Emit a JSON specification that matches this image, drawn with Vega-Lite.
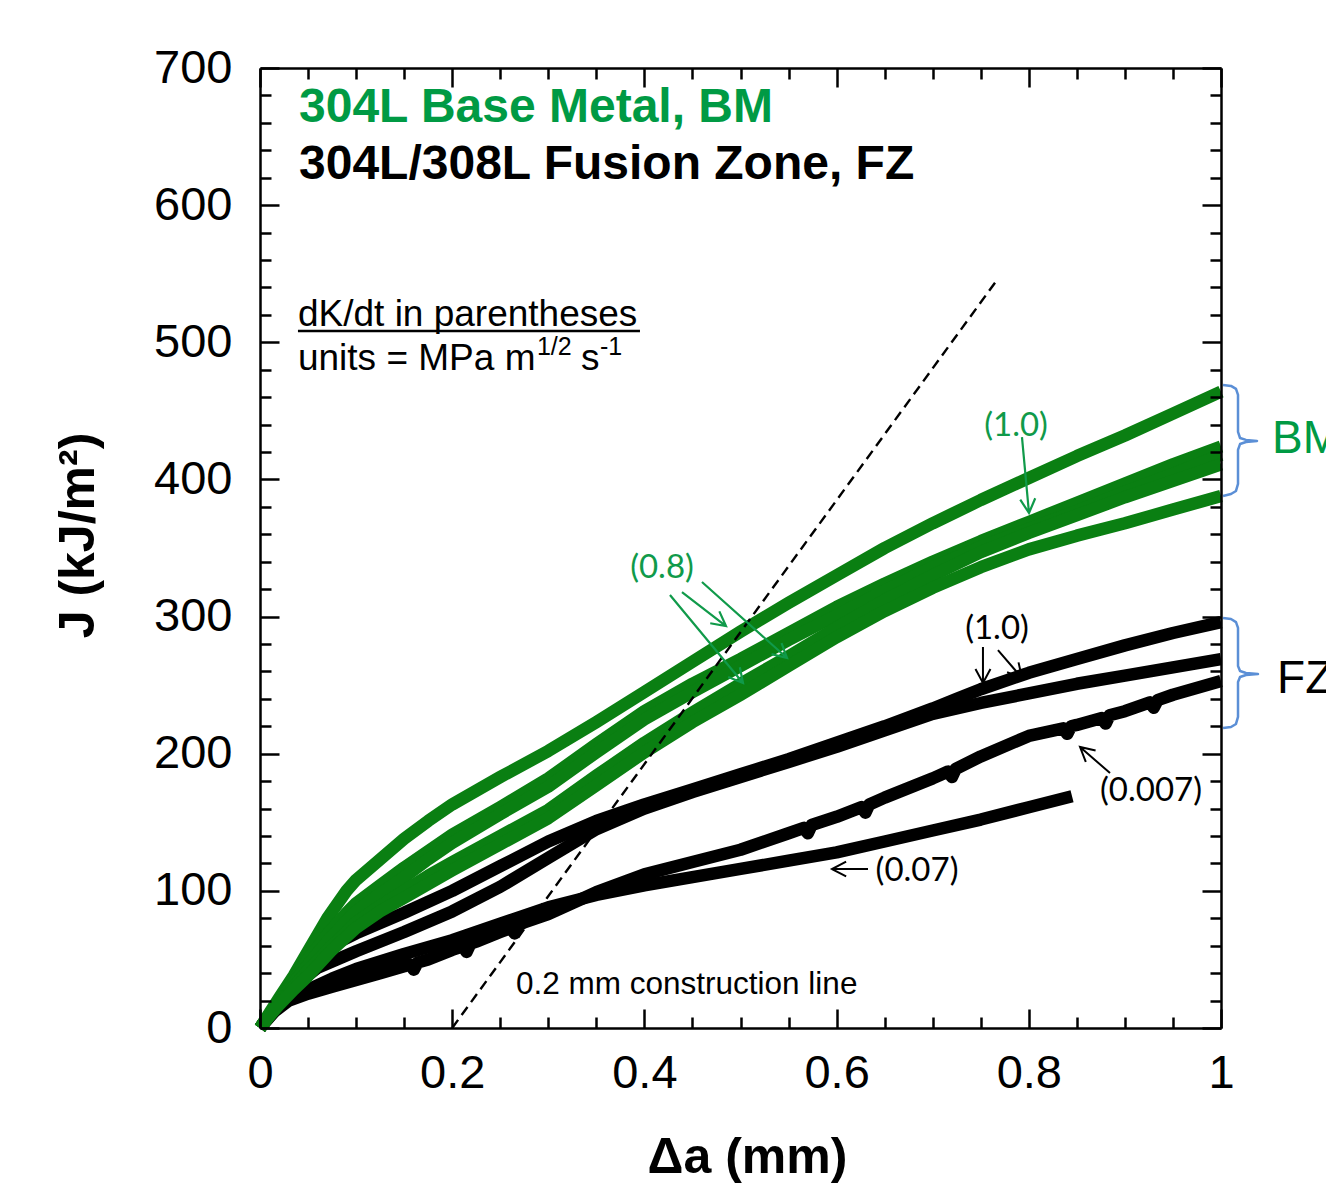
{
"$schema":"https://vega.github.io/schema/vega-lite/v6.json",
"width":961,"height":960,
"autosize":{"type":"none"},
"padding":{"left":260,"top":68,"right":105,"bottom":155},
"background":"white",
"config":{"view":{"stroke":null},"font":"Liberation Sans"},
"datasets":{
"curves":[
{"id":"G1","x":0,"y":0},{"id":"G1","x":0.01,"y":11},{"id":"G1","x":0.02,"y":22},{"id":"G1","x":0.035,"y":38},{"id":"G1","x":0.05,"y":56},{"id":"G1","x":0.07,"y":80},{"id":"G1","x":0.09,"y":100},{"id":"G1","x":0.1,"y":108},{"id":"G1","x":0.11,"y":114},{"id":"G1","x":0.13,"y":126},{"id":"G1","x":0.15,"y":138},{"id":"G1","x":0.175,"y":151},{"id":"G1","x":0.2,"y":163},{"id":"G1","x":0.25,"y":183},{"id":"G1","x":0.3,"y":202},{"id":"G1","x":0.35,"y":223},{"id":"G1","x":0.4,"y":245},{"id":"G1","x":0.45,"y":267},{"id":"G1","x":0.5,"y":289},{"id":"G1","x":0.55,"y":310},{"id":"G1","x":0.6,"y":330},{"id":"G1","x":0.65,"y":350},{"id":"G1","x":0.7,"y":368},{"id":"G1","x":0.75,"y":385},{"id":"G1","x":0.8,"y":401},{"id":"G1","x":0.85,"y":417},{"id":"G1","x":0.9,"y":432},{"id":"G1","x":0.95,"y":448},{"id":"G1","x":1.0,"y":464},
{"id":"G2","x":0,"y":0},{"id":"G2","x":0.01,"y":10},{"id":"G2","x":0.02,"y":20},{"id":"G2","x":0.035,"y":35},{"id":"G2","x":0.05,"y":50},{"id":"G2","x":0.07,"y":68},{"id":"G2","x":0.09,"y":84},{"id":"G2","x":0.1,"y":91},{"id":"G2","x":0.125,"y":104},{"id":"G2","x":0.15,"y":117},{"id":"G2","x":0.175,"y":129},{"id":"G2","x":0.2,"y":141},{"id":"G2","x":0.25,"y":161},{"id":"G2","x":0.3,"y":182},{"id":"G2","x":0.35,"y":207},{"id":"G2","x":0.4,"y":231},{"id":"G2","x":0.45,"y":251},{"id":"G2","x":0.5,"y":269},{"id":"G2","x":0.55,"y":288},{"id":"G2","x":0.6,"y":307},{"id":"G2","x":0.65,"y":324},{"id":"G2","x":0.7,"y":340},{"id":"G2","x":0.75,"y":355},{"id":"G2","x":0.8,"y":369},{"id":"G2","x":0.85,"y":383},{"id":"G2","x":0.9,"y":397},{"id":"G2","x":0.95,"y":411},{"id":"G2","x":1.0,"y":424},
{"id":"G3","x":0,"y":0},{"id":"G3","x":0.01,"y":10},{"id":"G3","x":0.02,"y":19},{"id":"G3","x":0.035,"y":33},{"id":"G3","x":0.05,"y":46},{"id":"G3","x":0.07,"y":63},{"id":"G3","x":0.09,"y":78},{"id":"G3","x":0.1,"y":85},{"id":"G3","x":0.125,"y":98},{"id":"G3","x":0.15,"y":110},{"id":"G3","x":0.175,"y":123},{"id":"G3","x":0.2,"y":135},{"id":"G3","x":0.25,"y":156},{"id":"G3","x":0.3,"y":176},{"id":"G3","x":0.35,"y":201},{"id":"G3","x":0.4,"y":225},{"id":"G3","x":0.45,"y":245},{"id":"G3","x":0.5,"y":264},{"id":"G3","x":0.55,"y":283},{"id":"G3","x":0.6,"y":301},{"id":"G3","x":0.65,"y":319},{"id":"G3","x":0.7,"y":336},{"id":"G3","x":0.75,"y":351},{"id":"G3","x":0.8,"y":364},{"id":"G3","x":0.85,"y":377},{"id":"G3","x":0.9,"y":391},{"id":"G3","x":0.95,"y":404},{"id":"G3","x":1.0,"y":418},
{"id":"G4","x":0,"y":0},{"id":"G4","x":0.01,"y":9},{"id":"G4","x":0.02,"y":18},{"id":"G4","x":0.035,"y":30},{"id":"G4","x":0.05,"y":42},{"id":"G4","x":0.075,"y":60},{"id":"G4","x":0.1,"y":77},{"id":"G4","x":0.125,"y":89},{"id":"G4","x":0.15,"y":100},{"id":"G4","x":0.175,"y":111},{"id":"G4","x":0.2,"y":121},{"id":"G4","x":0.25,"y":140},{"id":"G4","x":0.3,"y":159},{"id":"G4","x":0.35,"y":184},{"id":"G4","x":0.4,"y":208},{"id":"G4","x":0.45,"y":230},{"id":"G4","x":0.5,"y":251},{"id":"G4","x":0.55,"y":271},{"id":"G4","x":0.6,"y":292},{"id":"G4","x":0.65,"y":312},{"id":"G4","x":0.7,"y":330},{"id":"G4","x":0.75,"y":347},{"id":"G4","x":0.8,"y":361},{"id":"G4","x":0.85,"y":374},{"id":"G4","x":0.9,"y":387},{"id":"G4","x":0.95,"y":399},{"id":"G4","x":1.0,"y":411},
{"id":"G5","x":0,"y":0},{"id":"G5","x":0.01,"y":9},{"id":"G5","x":0.02,"y":17},{"id":"G5","x":0.035,"y":28},{"id":"G5","x":0.05,"y":38},{"id":"G5","x":0.075,"y":57},{"id":"G5","x":0.1,"y":73},{"id":"G5","x":0.125,"y":85},{"id":"G5","x":0.15,"y":95},{"id":"G5","x":0.175,"y":105},{"id":"G5","x":0.2,"y":115},{"id":"G5","x":0.25,"y":134},{"id":"G5","x":0.3,"y":153},{"id":"G5","x":0.35,"y":177},{"id":"G5","x":0.4,"y":201},{"id":"G5","x":0.45,"y":223},{"id":"G5","x":0.5,"y":243},{"id":"G5","x":0.55,"y":264},{"id":"G5","x":0.6,"y":285},{"id":"G5","x":0.65,"y":304},{"id":"G5","x":0.7,"y":321},{"id":"G5","x":0.75,"y":336},{"id":"G5","x":0.8,"y":349},{"id":"G5","x":0.85,"y":359},{"id":"G5","x":0.9,"y":368},{"id":"G5","x":0.95,"y":378},{"id":"G5","x":1.0,"y":388},
{"id":"B1","x":0,"y":0},{"id":"B1","x":0.02,"y":20},{"id":"B1","x":0.04,"y":38},{"id":"B1","x":0.06,"y":53},{"id":"B1","x":0.08,"y":62},{"id":"B1","x":0.1,"y":69},{"id":"B1","x":0.15,"y":84},{"id":"B1","x":0.2,"y":100},{"id":"B1","x":0.25,"y":118},{"id":"B1","x":0.3,"y":136},{"id":"B1","x":0.35,"y":151},{"id":"B1","x":0.4,"y":163},{"id":"B1","x":0.45,"y":174},{"id":"B1","x":0.5,"y":185},{"id":"B1","x":0.55,"y":196},{"id":"B1","x":0.6,"y":208},{"id":"B1","x":0.65,"y":220},{"id":"B1","x":0.7,"y":233},{"id":"B1","x":0.725,"y":240},{"id":"B1","x":0.75,"y":247},{"id":"B1","x":0.8,"y":259},{"id":"B1","x":0.85,"y":269},{"id":"B1","x":0.9,"y":279},{"id":"B1","x":0.95,"y":288},{"id":"B1","x":1.0,"y":296},
{"id":"B2","x":0,"y":0},{"id":"B2","x":0.02,"y":19},{"id":"B2","x":0.04,"y":33},{"id":"B2","x":0.06,"y":44},{"id":"B2","x":0.08,"y":50},{"id":"B2","x":0.1,"y":56},{"id":"B2","x":0.15,"y":70},{"id":"B2","x":0.2,"y":85},{"id":"B2","x":0.25,"y":103},{"id":"B2","x":0.3,"y":124},{"id":"B2","x":0.35,"y":145},{"id":"B2","x":0.4,"y":160},{"id":"B2","x":0.45,"y":172},{"id":"B2","x":0.5,"y":183},{"id":"B2","x":0.55,"y":194},{"id":"B2","x":0.6,"y":205},{"id":"B2","x":0.65,"y":217},{"id":"B2","x":0.7,"y":229},{"id":"B2","x":0.725,"y":233},{"id":"B2","x":0.75,"y":237},{"id":"B2","x":0.8,"y":244},{"id":"B2","x":0.85,"y":251},{"id":"B2","x":0.9,"y":257},{"id":"B2","x":0.95,"y":263},{"id":"B2","x":1.0,"y":269},
{"id":"B3","x":0,"y":0},{"id":"B3","x":0.015,"y":12},{"id":"B3","x":0.03,"y":20},{"id":"B3","x":0.05,"y":25},{"id":"B3","x":0.075,"y":30},{"id":"B3","x":0.1,"y":35},{"id":"B3","x":0.125,"y":40},{"id":"B3","x":0.15,"y":45},{"id":"B3","x":0.156,"y":46.5},{"id":"B3","x":0.16,"y":42.5},{"id":"B3","x":0.164,"y":47.8},{"id":"B3","x":0.175,"y":50},{"id":"B3","x":0.2,"y":57},{"id":"B3","x":0.211,"y":59.5},{"id":"B3","x":0.215,"y":55.5},{"id":"B3","x":0.219,"y":61.5},{"id":"B3","x":0.225,"y":63},{"id":"B3","x":0.25,"y":70},{"id":"B3","x":0.261,"y":73},{"id":"B3","x":0.265,"y":69},{"id":"B3","x":0.269,"y":75},{"id":"B3","x":0.275,"y":77},{"id":"B3","x":0.3,"y":83},{"id":"B3","x":0.35,"y":99},{"id":"B3","x":0.4,"y":112},{"id":"B3","x":0.45,"y":121},{"id":"B3","x":0.5,"y":130},{"id":"B3","x":0.55,"y":142},{"id":"B3","x":0.566,"y":146},{"id":"B3","x":0.57,"y":142},{"id":"B3","x":0.574,"y":148},{"id":"B3","x":0.6,"y":154},{"id":"B3","x":0.626,"y":161},{"id":"B3","x":0.63,"y":157},{"id":"B3","x":0.634,"y":163},{"id":"B3","x":0.65,"y":168},{"id":"B3","x":0.7,"y":182},{"id":"B3","x":0.716,"y":187},{"id":"B3","x":0.72,"y":183},{"id":"B3","x":0.724,"y":189},{"id":"B3","x":0.75,"y":198},{"id":"B3","x":0.8,"y":213},{"id":"B3","x":0.836,"y":218.5},{"id":"B3","x":0.84,"y":214.5},{"id":"B3","x":0.844,"y":220},{"id":"B3","x":0.85,"y":221},{"id":"B3","x":0.876,"y":226},{"id":"B3","x":0.88,"y":222},{"id":"B3","x":0.884,"y":228},{"id":"B3","x":0.9,"y":231},{"id":"B3","x":0.926,"y":237.5},{"id":"B3","x":0.93,"y":233.5},{"id":"B3","x":0.934,"y":239},{"id":"B3","x":0.95,"y":243},{"id":"B3","x":1.0,"y":253},
{"id":"B4","x":0,"y":0},{"id":"B4","x":0.015,"y":13},{"id":"B4","x":0.03,"y":21},{"id":"B4","x":0.05,"y":28},{"id":"B4","x":0.075,"y":36},{"id":"B4","x":0.1,"y":43},{"id":"B4","x":0.15,"y":54},{"id":"B4","x":0.2,"y":64},{"id":"B4","x":0.25,"y":76},{"id":"B4","x":0.3,"y":88},{"id":"B4","x":0.35,"y":97},{"id":"B4","x":0.4,"y":104},{"id":"B4","x":0.45,"y":110},{"id":"B4","x":0.5,"y":116},{"id":"B4","x":0.55,"y":122},{"id":"B4","x":0.6,"y":128},{"id":"B4","x":0.65,"y":136},{"id":"B4","x":0.7,"y":144},{"id":"B4","x":0.75,"y":152},{"id":"B4","x":0.8,"y":161},{"id":"B4","x":0.845,"y":169}
],
"arrows":[
{"id":"ga1","o":0,"x":0.7929,"y":430.9},{"id":"ga1","o":1,"x":0.8002,"y":375.5},{"id":"ga1","o":2,"x":0.8067,"y":386.3},{"id":"ga1","o":3,"x":0.8002,"y":375.5},{"id":"ga1","o":4,"x":0.7911,"y":385.3},
{"id":"ga2","o":0,"x":0.4266,"y":315.7},{"id":"ga2","o":1,"x":0.5026,"y":251.6},{"id":"ga2","o":2,"x":0.4993,"y":263.0},{"id":"ga2","o":3,"x":0.5026,"y":251.6},{"id":"ga2","o":4,"x":0.4872,"y":256.0},
{"id":"ga3","o":0,"x":0.4391,"y":317.9},{"id":"ga3","o":1,"x":0.4849,"y":293.1},{"id":"ga3","o":2,"x":0.4780,"y":303.8},{"id":"ga3","o":3,"x":0.4849,"y":293.1},{"id":"ga3","o":4,"x":0.4685,"y":295.1},
{"id":"ga4","o":0,"x":0.4599,"y":325.2},{"id":"ga4","o":1,"x":0.5484,"y":269.8},{"id":"ga4","o":2,"x":0.5427,"y":280.7},{"id":"ga4","o":3,"x":0.5484,"y":269.8},{"id":"ga4","o":4,"x":0.5323,"y":272.6},
{"id":"ba1","o":0,"x":0.7523,"y":277.8},{"id":"ba1","o":1,"x":0.7523,"y":251.6},{"id":"ba1","o":2,"x":0.7601,"y":261.8},{"id":"ba1","o":3,"x":0.7523,"y":251.6},{"id":"ba1","o":4,"x":0.7445,"y":261.8},
{"id":"ba2","o":0,"x":0.7679,"y":275.6},{"id":"ba2","o":1,"x":0.7929,"y":255.2},{"id":"ba2","o":2,"x":0.7893,"y":266.6},{"id":"ba2","o":3,"x":0.7929,"y":255.2},{"id":"ba2","o":4,"x":0.7774,"y":259.4},
{"id":"ba3","o":0,"x":0.8845,"y":185.9},{"id":"ba3","o":1,"x":0.8533,"y":204.9},{"id":"ba3","o":2,"x":0.8593,"y":194.0},{"id":"ba3","o":3,"x":0.8533,"y":204.9},{"id":"ba3","o":4,"x":0.8695,"y":202.3},
{"id":"ba4","o":0,"x":0.6327,"y":115.9},{"id":"ba4","o":1,"x":0.5952,"y":115.9},{"id":"ba4","o":2,"x":0.6099,"y":110.5},{"id":"ba4","o":3,"x":0.5952,"y":115.9},{"id":"ba4","o":4,"x":0.6099,"y":121.4}
],
"braces":[
{"id":"BM","o":0,"x":1.0021,"y":468.9},{"id":"BM","o":1,"x":1.0104,"y":468.2},{"id":"BM","o":2,"x":1.0156,"y":466.0},{"id":"BM","o":3,"x":1.0177,"y":461.6},{"id":"BM","o":4,"x":1.0177,"y":434.6},{"id":"BM","o":5,"x":1.0198,"y":430.2},{"id":"BM","o":6,"x":1.0260,"y":428.8},{"id":"BM","o":7,"x":1.0375,"y":428.1},{"id":"BM","o":8,"x":1.0260,"y":427.3},{"id":"BM","o":9,"x":1.0198,"y":425.8},{"id":"BM","o":10,"x":1.0177,"y":421.5},{"id":"BM","o":11,"x":1.0177,"y":396.7},{"id":"BM","o":12,"x":1.0156,"y":391.6},{"id":"BM","o":13,"x":1.0104,"y":389.4},{"id":"BM","o":14,"x":1.0021,"y":387.9},
{"id":"FZ","o":0,"x":1.0021,"y":299.0},{"id":"FZ","o":1,"x":1.0104,"y":298.2},{"id":"FZ","o":2,"x":1.0156,"y":296.0},{"id":"FZ","o":3,"x":1.0177,"y":291.7},{"id":"FZ","o":4,"x":1.0177,"y":264.0},{"id":"FZ","o":5,"x":1.0198,"y":260.3},{"id":"FZ","o":6,"x":1.0260,"y":258.9},{"id":"FZ","o":7,"x":1.0385,"y":258.1},{"id":"FZ","o":8,"x":1.0260,"y":257.4},{"id":"FZ","o":9,"x":1.0198,"y":255.9},{"id":"FZ","o":10,"x":1.0177,"y":252.3},{"id":"FZ","o":11,"x":1.0177,"y":226.8},{"id":"FZ","o":12,"x":1.0156,"y":221.7},{"id":"FZ","o":13,"x":1.0104,"y":219.5},{"id":"FZ","o":14,"x":1.0021,"y":218.7}
]
},
"resolve":{"axis":{"x":"independent","y":"independent"}},
"layer":[
{"data":{"name":"curves"},"transform":[{"filter":{"field":"id","oneOf":["B1","B2","B3","B4"]}}],
 "mark":{"type":"line","color":"#000000","strokeWidth":12.5,"strokeJoin":"round"},
 "encoding":{
  "x":{"field":"x","type":"quantitative","scale":{"domain":[0,1],"nice":false,"zero":false},
   "axis":{"orient":"bottom","values":[0,0.2,0.4,0.6,0.8,1],"format":"~g","ticks":false,"domain":true,"domainColor":"#000000","domainWidth":2.5,"grid":false,"labelFont":"Liberation Sans","labelFontSize":47,"labelColor":"#000000","labelPadding":22,"labelFlush":false,"labelOverlap":false,"title":"Δa (mm)","titleFont":"Liberation Sans","titleFontSize":50,"titleFontWeight":"bold","titleColor":"#000000","titleX":487,"titleY":144,"titleBaseline":"alphabetic","titleAlign":"center","zindex":1}},
  "y":{"field":"y","type":"quantitative","scale":{"domain":[0,700],"nice":false,"zero":false},
   "axis":{"orient":"left","values":[0,100,200,300,400,500,600,700],"format":"d","ticks":false,"domain":true,"domainColor":"#000000","domainWidth":2.5,"grid":false,"labelFont":"Liberation Sans","labelFontSize":47,"labelColor":"#000000","labelPadding":28,"labelFlush":false,"labelOverlap":false,"title":"J (kJ/m²)","titleFont":"Liberation Sans","titleFontSize":50,"titleFontWeight":"bold","titleColor":"#000000","titleX":-157,"titleY":467,"titleAngle":270,"titleBaseline":"bottom","titleAlign":"center","zindex":1}},
  "detail":{"field":"id"}}},
{"data":{"name":"curves"},"transform":[{"filter":{"field":"id","oneOf":["G1","G2","G3","G4","G5"]}}],
 "mark":{"type":"line","color":"#0a7f12","strokeWidth":12.5,"strokeJoin":"round"},
 "encoding":{
  "x":{"field":"x","type":"quantitative","scale":{"domain":[0,1],"nice":false,"zero":false},
   "axis":{"orient":"bottom","values":[0,0.2,0.4,0.6,0.8,1],"labels":false,"domain":false,"grid":false,"ticks":true,"tickSize":-19,"tickWidth":2.5,"tickColor":"#000000","title":null,"zindex":1}},
  "y":{"field":"y","type":"quantitative","scale":{"domain":[0,700],"nice":false,"zero":false},
   "axis":{"orient":"left","values":[0,100,200,300,400,500,600,700],"labels":false,"domain":false,"grid":false,"ticks":true,"tickSize":-19,"tickWidth":2.5,"tickColor":"#000000","title":null,"zindex":1}},
  "detail":{"field":"id"}}},
{"data":{"values":[{"x":0.2,"y":0,"x2":0.7669,"y2":545.4}]},
 "mark":{"type":"rule","color":"#000000","strokeWidth":2.4,"strokeDash":[10,6]},
 "encoding":{
  "x":{"field":"x","type":"quantitative","scale":{"domain":[0,1],"nice":false,"zero":false},
   "axis":{"orient":"bottom","values":[0.05,0.1,0.15,0.25,0.3,0.35,0.45,0.5,0.55,0.65,0.7,0.75,0.85,0.9,0.95],"labels":false,"domain":false,"grid":false,"ticks":true,"tickSize":-11,"tickWidth":2.5,"tickColor":"#000000","title":null,"zindex":1}},
  "y":{"field":"y","type":"quantitative","scale":{"domain":[0,700],"nice":false,"zero":false},
   "axis":{"orient":"left","values":[20,40,60,80,120,140,160,180,220,240,260,280,320,340,360,380,420,440,460,480,520,540,560,580,620,640,660,680],"labels":false,"domain":false,"grid":false,"ticks":true,"tickSize":-11,"tickWidth":2.5,"tickColor":"#000000","title":null,"zindex":1}},
  "x2":{"field":"x2"},"y2":{"field":"y2"}}},
{"data":{"name":"arrows"},"transform":[{"filter":{"field":"id","oneOf":["ga1","ga2","ga3","ga4"]}}],
 "mark":{"type":"line","color":"#109a4a","strokeWidth":2.2,"strokeJoin":"miter"},
 "encoding":{
  "x":{"field":"x","type":"quantitative","scale":{"domain":[0,1],"nice":false,"zero":false},
   "axis":{"orient":"top","values":[0,0.2,0.4,0.6,0.8,1],"labels":false,"domain":true,"domainColor":"#000000","domainWidth":2.5,"grid":false,"ticks":true,"tickSize":-19,"tickWidth":2.5,"tickColor":"#000000","title":null,"zindex":1}},
  "y":{"field":"y","type":"quantitative","scale":{"domain":[0,700],"nice":false,"zero":false},
   "axis":{"orient":"right","values":[0,100,200,300,400,500,600,700],"labels":false,"domain":true,"domainColor":"#000000","domainWidth":2.5,"grid":false,"ticks":true,"tickSize":-19,"tickWidth":2.5,"tickColor":"#000000","title":null,"zindex":1}},
  "detail":{"field":"id"},"order":{"field":"o"}}},
{"data":{"name":"arrows"},"transform":[{"filter":{"field":"id","oneOf":["ba1","ba2","ba3","ba4"]}}],
 "mark":{"type":"line","color":"#000000","strokeWidth":2,"strokeJoin":"miter"},
 "encoding":{
  "x":{"field":"x","type":"quantitative","scale":{"domain":[0,1],"nice":false,"zero":false},
   "axis":{"orient":"top","values":[0.05,0.1,0.15,0.25,0.3,0.35,0.45,0.5,0.55,0.65,0.7,0.75,0.85,0.9,0.95],"labels":false,"domain":false,"grid":false,"ticks":true,"tickSize":-11,"tickWidth":2.5,"tickColor":"#000000","title":null,"zindex":1}},
  "y":{"field":"y","type":"quantitative","scale":{"domain":[0,700],"nice":false,"zero":false},
   "axis":{"orient":"right","values":[20,40,60,80,120,140,160,180,220,240,260,280,320,340,360,380,420,440,460,480,520,540,560,580,620,640,660,680],"labels":false,"domain":false,"grid":false,"ticks":true,"tickSize":-11,"tickWidth":2.5,"tickColor":"#000000","title":null,"zindex":1}},
  "detail":{"field":"id"},"order":{"field":"o"}}},
{"data":{"name":"braces"},
 "mark":{"type":"line","color":"#5b8fd6","strokeWidth":2.5,"strokeJoin":"round"},
 "encoding":{
  "x":{"field":"x","type":"quantitative","scale":{"domain":[0,1],"nice":false,"zero":false},"axis":null},
  "y":{"field":"y","type":"quantitative","scale":{"domain":[0,700],"nice":false,"zero":false},"axis":null},
  "detail":{"field":"id"},"order":{"field":"o"}}},
{"data":{"values":[{"x":0.0406,"y":660.6,"label":"304L Base Metal, BM"}]},
 "mark":{"type":"text","font":"Liberation Sans","fontSize":48,"fontWeight":"bold","color":"#009a44","align":"left","baseline":"alphabetic"},
 "encoding":{
  "x":{"field":"x","type":"quantitative","scale":{"domain":[0,1],"nice":false,"zero":false},"axis":null},
  "y":{"field":"y","type":"quantitative","scale":{"domain":[0,700],"nice":false,"zero":false},"axis":null},
  "text":{"field":"label"}}},
{"data":{"values":[{"x":0.0406,"y":619.0,"label":"304L/308L Fusion Zone, FZ"}]},
 "mark":{"type":"text","font":"Liberation Sans","fontSize":48,"fontWeight":"bold","color":"#000000","align":"left","baseline":"alphabetic"},
 "encoding":{
  "x":{"field":"x","type":"quantitative","scale":{"domain":[0,1],"nice":false,"zero":false},"axis":null},
  "y":{"field":"y","type":"quantitative","scale":{"domain":[0,700],"nice":false,"zero":false},"axis":null},
  "text":{"field":"label"}}},
{"data":{"values":[{"x":0.0395,"y":511.9,"label":"dK/dt in parentheses"},{"x":0.0395,"y":479.8,"label":"units = MPa m"},{"x":0.3340,"y":479.8,"label":"s"}]},
 "mark":{"type":"text","font":"Liberation Sans","fontSize":37,"color":"#000000","align":"left","baseline":"alphabetic"},
 "encoding":{
  "x":{"field":"x","type":"quantitative","scale":{"domain":[0,1],"nice":false,"zero":false},"axis":null},
  "y":{"field":"y","type":"quantitative","scale":{"domain":[0,700],"nice":false,"zero":false},"axis":null},
  "text":{"field":"label"}}},
{"data":{"values":[{"x":0.2882,"y":490.7,"label":"1/2"},{"x":0.3538,"y":490.7,"label":"-1"}]},
 "mark":{"type":"text","font":"Liberation Sans","fontSize":25,"color":"#000000","align":"left","baseline":"alphabetic"},
 "encoding":{
  "x":{"field":"x","type":"quantitative","scale":{"domain":[0,1],"nice":false,"zero":false},"axis":null},
  "y":{"field":"y","type":"quantitative","scale":{"domain":[0,700],"nice":false,"zero":false},"axis":null},
  "text":{"field":"label"}}},
{"data":{"values":[{"x":0.0395,"x2":0.3954,"y":508.2}]},
 "mark":{"type":"rule","color":"#000000","strokeWidth":2.5},
 "encoding":{
  "x":{"field":"x","type":"quantitative","scale":{"domain":[0,1],"nice":false,"zero":false},"axis":null},
  "x2":{"field":"x2"},
  "y":{"field":"y","type":"quantitative","scale":{"domain":[0,700],"nice":false,"zero":false},"axis":null}}},
{"data":{"values":[{"x":0.7867,"y":439.0,"label":"(1.0)"},{"x":0.4183,"y":335.4,"label":"(0.8)"}]},
 "mark":{"type":"text","font":"Lato","fontSize":33,"color":"#109a4a","align":"center","baseline":"middle"},
 "encoding":{
  "x":{"field":"x","type":"quantitative","scale":{"domain":[0,1],"nice":false,"zero":false},"axis":null},
  "y":{"field":"y","type":"quantitative","scale":{"domain":[0,700],"nice":false,"zero":false},"axis":null},
  "text":{"field":"label"}}},
{"data":{"values":[{"x":0.7669,"y":290.9,"label":"(1.0)"},{"x":0.9272,"y":172.8,"label":"(0.007)"},{"x":0.6837,"y":114.5,"label":"(0.07)"}]},
 "mark":{"type":"text","font":"Lato","fontSize":33,"color":"#000000","align":"center","baseline":"middle"},
 "encoding":{
  "x":{"field":"x","type":"quantitative","scale":{"domain":[0,1],"nice":false,"zero":false},"axis":null},
  "y":{"field":"y","type":"quantitative","scale":{"domain":[0,700],"nice":false,"zero":false},"axis":null},
  "text":{"field":"label"}}},
{"data":{"values":[{"x":0.2664,"y":24.8,"label":"0.2 mm construction line"}]},
 "mark":{"type":"text","font":"Liberation Sans","fontSize":31.5,"color":"#000000","align":"left","baseline":"alphabetic"},
 "encoding":{
  "x":{"field":"x","type":"quantitative","scale":{"domain":[0,1],"nice":false,"zero":false},"axis":null},
  "y":{"field":"y","type":"quantitative","scale":{"domain":[0,700],"nice":false,"zero":false},"axis":null},
  "text":{"field":"label"}}},
{"data":{"values":[{"x":1.0531,"y":419.3,"label":"BM"}]},
 "mark":{"type":"text","font":"Liberation Sans","fontSize":46,"color":"#009a44","align":"left","baseline":"alphabetic"},
 "encoding":{
  "x":{"field":"x","type":"quantitative","scale":{"domain":[0,1],"nice":false,"zero":false},"axis":null},
  "y":{"field":"y","type":"quantitative","scale":{"domain":[0,700],"nice":false,"zero":false},"axis":null},
  "text":{"field":"label"}}},
{"data":{"values":[{"x":1.0583,"y":244.3,"label":"FZ"}]},
 "mark":{"type":"text","font":"Liberation Sans","fontSize":46,"color":"#000000","align":"left","baseline":"alphabetic"},
 "encoding":{
  "x":{"field":"x","type":"quantitative","scale":{"domain":[0,1],"nice":false,"zero":false},"axis":null},
  "y":{"field":"y","type":"quantitative","scale":{"domain":[0,700],"nice":false,"zero":false},"axis":null},
  "text":{"field":"label"}}}
]
}
